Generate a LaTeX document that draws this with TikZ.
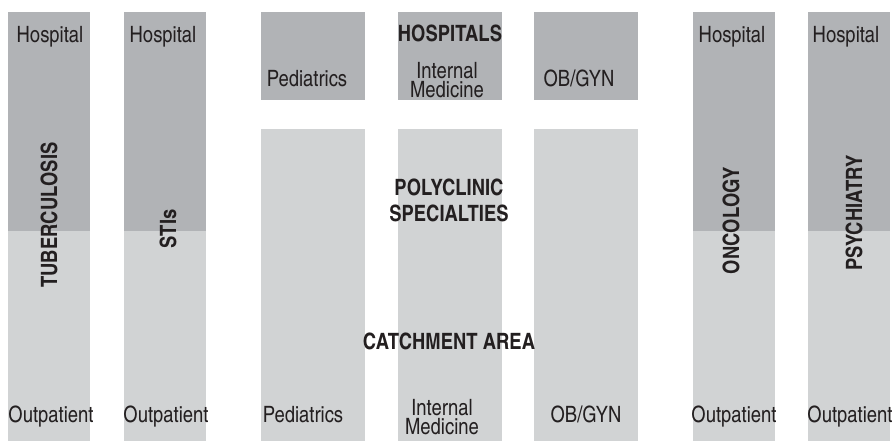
\documentclass[tikz,border=0pt]{standalone}
\usepackage{fontspec}
\setmainfont{texgyreheroscn}[Extension=.otf, UprightFont=*-regular, BoldFont=*-bold,
  ItalicFont=*-italic, BoldItalicFont=*-bolditalic]

\definecolor{hospgray}{HTML}{B1B3B6}
\definecolor{outpgray}{HTML}{D1D3D4}
\definecolor{ink}{HTML}{231F20}

\begin{document}
\begin{tikzpicture}[x=1pt, y=-1pt,
  hosp/.style={fill=hospgray},
  outp/.style={fill=outpgray},
  lbl/.style={font=\fontsize{22.5}{19}\selectfont, text=ink, inner sep=0pt, align=center},
  head/.style={lbl, font=\fontsize{22.5}{26}\selectfont\bfseries}]
  \useasboundingbox (0,0) rectangle (892,443);

  % vertical services: hospital on top, outpatient below
  \foreach \x in {8,124,693,808} {
    \fill[hosp] (\x,12) rectangle ++(82,219);
    \fill[outp] (\x,231) rectangle ++(82,210);
  }
  % the three basic specialties
  \foreach \x in {261,398,534} {
    \fill[hosp] (\x,12) rectangle ++(104,88);
    \fill[outp] (\x,129) rectangle ++(104,312);
  }

  \node[lbl, anchor=base] (hosp-tb) at (50,43) {Hospital};
  \node[lbl, anchor=base] (hosp-sti) at (163,43) {Hospital};
  \node[lbl, anchor=base] (hosp-onc) at (732,43) {Hospital};
  \node[lbl, anchor=base] (hosp-psy) at (846,43) {Hospital};
  \node[lbl, anchor=base] (outp-tb) at (51,423) {Outpatient};
  \node[lbl, anchor=base] (outp-sti) at (166,423) {Outpatient};
  \node[lbl, anchor=base] (outp-onc) at (734,423) {Outpatient};
  \node[lbl, anchor=base] (outp-psy) at (850,423) {Outpatient};

  \node[head, rotate=90] (tb) at (49,215) {TUBERCULOSIS};
  \node[head, rotate=90] (sti) at (168,229) {STIs};
  \node[head, rotate=90] (onc) at (731,221) {ONCOLOGY};
  \node[head, rotate=90] (psy) at (854,213) {PSYCHIATRY};

  \node[head, anchor=base] (hospitals) at (450,42) {HOSPITALS};
  \node[lbl, anchor=base] (ped-h) at (307,87) {Pediatrics};
  \node[lbl] (int-h) at (447,80) {Internal\\Medicine};
  \node[lbl, anchor=base] (obg-h) at (579,87) {OB/GYN};

  \node[head] (poly) at (449,200) {POLYCLINIC\\SPECIALTIES};
  \node[head, anchor=base] (catch) at (449,350) {CATCHMENT AREA};

  \node[lbl, anchor=base] (ped-o) at (303,423) {Pediatrics};
  \node[lbl] (int-o) at (442,417) {Internal\\Medicine};
  \node[lbl, anchor=base] (obg-o) at (586,423) {OB/GYN};
\end{tikzpicture}
\end{document}
